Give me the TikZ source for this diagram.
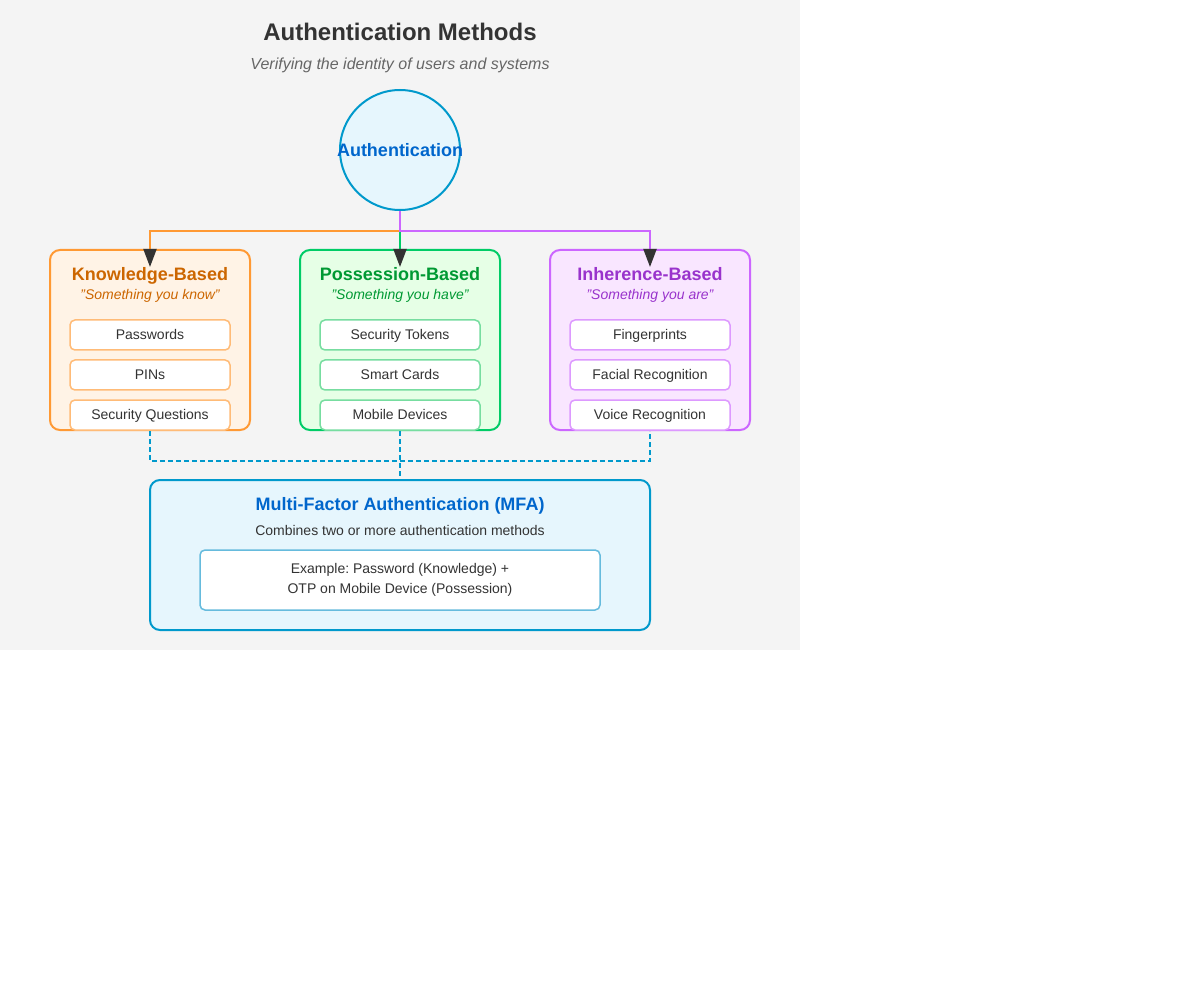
\documentclass[tikz,border=0pt]{standalone}
\usepackage{fontspec}
\setmainfont{Liberation Sans}
\usetikzlibrary{arrows.meta}
\definecolor{bg}{HTML}{F4F4F4}
\definecolor{ink}{HTML}{333333}
\definecolor{grey}{HTML}{666666}
\definecolor{tip}{HTML}{333333}
\definecolor{mfa}{HTML}{0099CC}
\definecolor{mfabg}{HTML}{E6F6FD}
\definecolor{mfatxt}{HTML}{0066CC}
\definecolor{mfaitem}{HTML}{66BBDD}
\definecolor{korange}{HTML}{FF9933}
\definecolor{kbg}{HTML}{FFF3E6}
\definecolor{ktxt}{HTML}{CC6600}
\definecolor{kitem}{HTML}{FFBB77}
\definecolor{pgreen}{HTML}{00CC66}
\definecolor{pbg}{HTML}{E6FFE6}
\definecolor{ptxt}{HTML}{009933}
\definecolor{pitem}{HTML}{77DDA0}
\definecolor{ipurple}{HTML}{CC66FF}
\definecolor{ibg}{HTML}{F9E6FF}
\definecolor{itxt}{HTML}{9933CC}
\definecolor{iitem}{HTML}{DD99FF}
\frenchspacing

\begin{document}
\begin{tikzpicture}[x=1pt,y=-1pt,
	box/.style={draw,rounded corners=10pt,line width=2pt,minimum width=200pt,minimum height=180pt,inner sep=0pt},
	entry/.style={draw,fill=white,rounded corners=5pt,line width=1.5pt,minimum width=160pt,minimum height=30pt,inner sep=0pt,text=ink,text height=10pt,text depth=0pt,font=\fontsize{14}{17}\selectfont},
	head/.style={font=\bfseries\fontsize{18}{22}\selectfont,text height=13pt,text depth=0pt},
	tagline/.style={font=\itshape\fontsize{14}{17}\selectfont,text height=10pt,text depth=0pt},
	link/.style={line width=2pt,-{Triangle[length=18pt,width=13pt,color=tip]}},
	mfalink/.style={line width=2pt,mfa,dash pattern=on 5pt off 3pt}]
		\fill[bg] (0,0) rectangle (800,650);
		\useasboundingbox (0,0) rectangle (1200,1000);
		\node[font=\bfseries\fontsize{24}{29}\selectfont,text=ink,text height=17pt,text depth=0pt] (title) at (400,32) {Authentication Methods};
		\node[font=\itshape\fontsize{16}{19}\selectfont,text=grey,text height=11.5pt,text depth=0pt] (sub) at (400,64) {Verifying the identity of users and systems};
		\node[circle,draw=mfa,fill=mfabg,line width=2pt,minimum size=120pt,inner sep=0pt] (auth) at (400,150) {};
		\node[head,text=mfatxt] (authlbl) at (auth) {Authentication};

		\node[box,draw=korange,fill=kbg] (know) at (150,340) {};
		\node[head,text=ktxt] (kh) at (150,274) {Knowledge-Based};
		\node[tagline,text=ktxt] (kt) at (150,295) {"Something you know"};
		\node[entry,draw=kitem] (k1) at (150,335) {Passwords};
		\node[entry,draw=kitem] (k2) at (150,375) {PINs};
		\node[entry,draw=kitem] (k3) at (150,415) {Security Questions};

		\node[box,draw=pgreen,fill=pbg] (poss) at (400,340) {};
		\node[head,text=ptxt] (ph) at (400,274) {Possession-Based};
		\node[tagline,text=ptxt] (pt) at (400,295) {"Something you have"};
		\node[entry,draw=pitem] (p1) at (400,335) {Security Tokens};
		\node[entry,draw=pitem] (p2) at (400,375) {Smart Cards};
		\node[entry,draw=pitem] (p3) at (400,415) {Mobile Devices};

		\node[box,draw=ipurple,fill=ibg] (inh) at (650,340) {};
		\node[head,text=itxt] (ih) at (650,274) {Inherence-Based};
		\node[tagline,text=itxt] (it) at (650,295) {"Something you are"};
		\node[entry,draw=iitem] (i1) at (650,335) {Fingerprints};
		\node[entry,draw=iitem] (i2) at (650,375) {Facial Recognition};
		\node[entry,draw=iitem] (i3) at (650,415) {Voice Recognition};

		\draw[link,korange] (auth.south) -- ++(0,20) -| ([yshift=-18pt]know.north);
		\draw[link,pgreen] (auth.south) -- ([yshift=-18pt]poss.north);
		\draw[link,ipurple] (auth.south) -- ++(0,20) -| ([yshift=-18pt]inh.north);

		\draw[mfalink] (know.south) -- ++(0,30) -| (inh.south);
		\draw[mfalink] (poss.south) -- ++(0,50) coordinate (mfatop);

		\node[draw=mfa,fill=mfabg,rounded corners=10pt,line width=2pt,minimum width=500pt,minimum height=150pt,inner sep=0pt] (mfa) at (400,555) {};
		\node[head,text=mfatxt] (mh) at (400,504) {Multi-Factor Authentication (MFA)};
		\node[font=\fontsize{14}{17}\selectfont,text=ink,text height=10pt,text depth=0pt] (mt) at (400,530) {Combines two or more authentication methods};
		\node[draw=mfaitem,fill=white,rounded corners=5pt,line width=1.5pt,minimum width=400pt,minimum height=60pt,inner sep=0pt,align=center,text=ink,font=\fontsize{14}{20}\selectfont] (ex) at (400,580) {Example: Password (Knowledge) +\\OTP on Mobile Device (Possession)};
	\end{tikzpicture}
\end{document}
